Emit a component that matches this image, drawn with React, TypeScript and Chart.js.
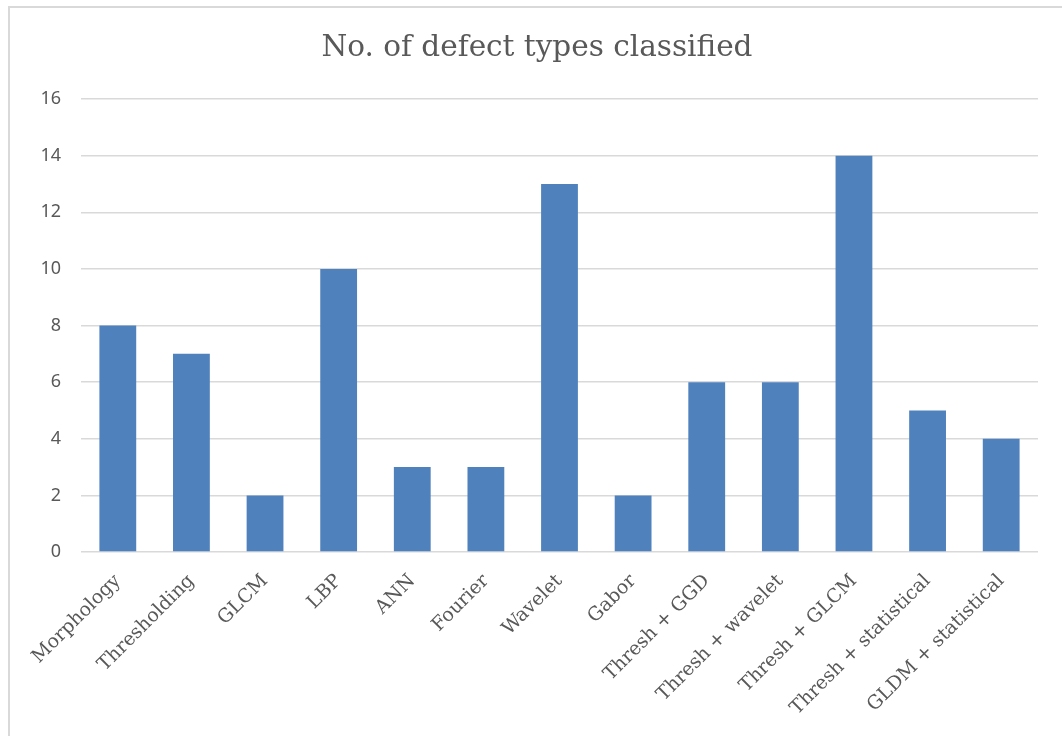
import React, { useEffect, useRef } from "react";
import { Chart, registerables } from "chart.js";

Chart.register(...registerables);

const categories = [
  "Morphology",
  "Thresholding",
  "GLCM",
  "LBP",
  "ANN",
  "Fourier",
  "Wavelet",
  "Gabor",
  "Thresh + GGD",
  "Thresh + wavelet",
  "Thresh + GLCM",
  "Thresh + statistical",
  "GLDM + statistical",
];

const defectTypes = [8, 7, 2, 10, 3, 3, 13, 2, 6, 6, 14, 5, 4];

const yTicks = [0, 2, 4, 6, 8, 10, 12, 14, 16];

const chartTitle = "No. of defect types classified";

// Light frame around the whole chart object, plus the centred title
const framePlugin = {
  id: "frame",
  beforeDraw(chart: any) {
    const ctx = chart.ctx;
    ctx.save();
    ctx.fillStyle = "#ffffff";
    ctx.fillRect(0, 0, chart.width, chart.height);
    ctx.strokeStyle = "#d9d9d9";
    ctx.lineWidth = 2;
    ctx.strokeRect(9, 7, chart.width + 20, chart.height + 20);
    ctx.fillStyle = "#595959";
    ctx.font = "29.5px 'DejaVu Serif', serif";
    ctx.textAlign = "center";
    ctx.textBaseline = "middle";
    ctx.fillText(chartTitle, 537, 48);
    ctx.restore();
  },
};

export default function App() {
  const canvasRef = useRef<HTMLCanvasElement | null>(null);

  useEffect(() => {
    if (!canvasRef.current) return;
    const chart = new Chart(canvasRef.current, {
      type: "bar",
      data: {
        labels: categories,
        datasets: [
          {
            label: chartTitle,
            data: defectTypes,
            backgroundColor: "#4f81bd",
            borderWidth: 0,
            categoryPercentage: 1,
            barPercentage: 0.5,
          },
        ],
      },
      plugins: [framePlugin],
      options: {
        responsive: false,
        animation: false,
        layout: { padding: { left: 0, right: 24, top: 99, bottom: 0 } },
        plugins: {
          legend: { display: false },
          tooltip: { enabled: false },
          title: { display: false },
        },
        scales: {
          x: {
            grid: { display: false },
            border: { display: false },
            ticks: {
              color: "#595959",
              font: { family: "'DejaVu Serif', serif", size: 19 },
              minRotation: 45,
              maxRotation: 45,
              autoSkip: false,
              padding: 10,
            },
            afterFit(scale: any) {
              scale.height = 736 - 552;
            },
          },
          y: {
            min: 0,
            max: 16,
            afterBuildTicks(scale: any) {
              scale.ticks = yTicks.map((v) => ({ value: v }));
            },
            grid: { color: "#d9d9d9", lineWidth: 1.5, drawTicks: false },
            border: { display: false },
            ticks: {
              color: "#595959",
              font: { family: "'Noto Sans', sans-serif", size: 18 },
              padding: 20,
            },
            afterFit(scale: any) {
              scale.width = 81;
            },
          },
        },
      },
    });
    return () => chart.destroy();
  }, []);

  return (
    <div style={{ position: "fixed", left: 0, top: 0, width: 1062, height: 736 }}>
      <canvas ref={canvasRef} width={1062} height={736} style={{ display: "block" }} />
    </div>
  );
}
